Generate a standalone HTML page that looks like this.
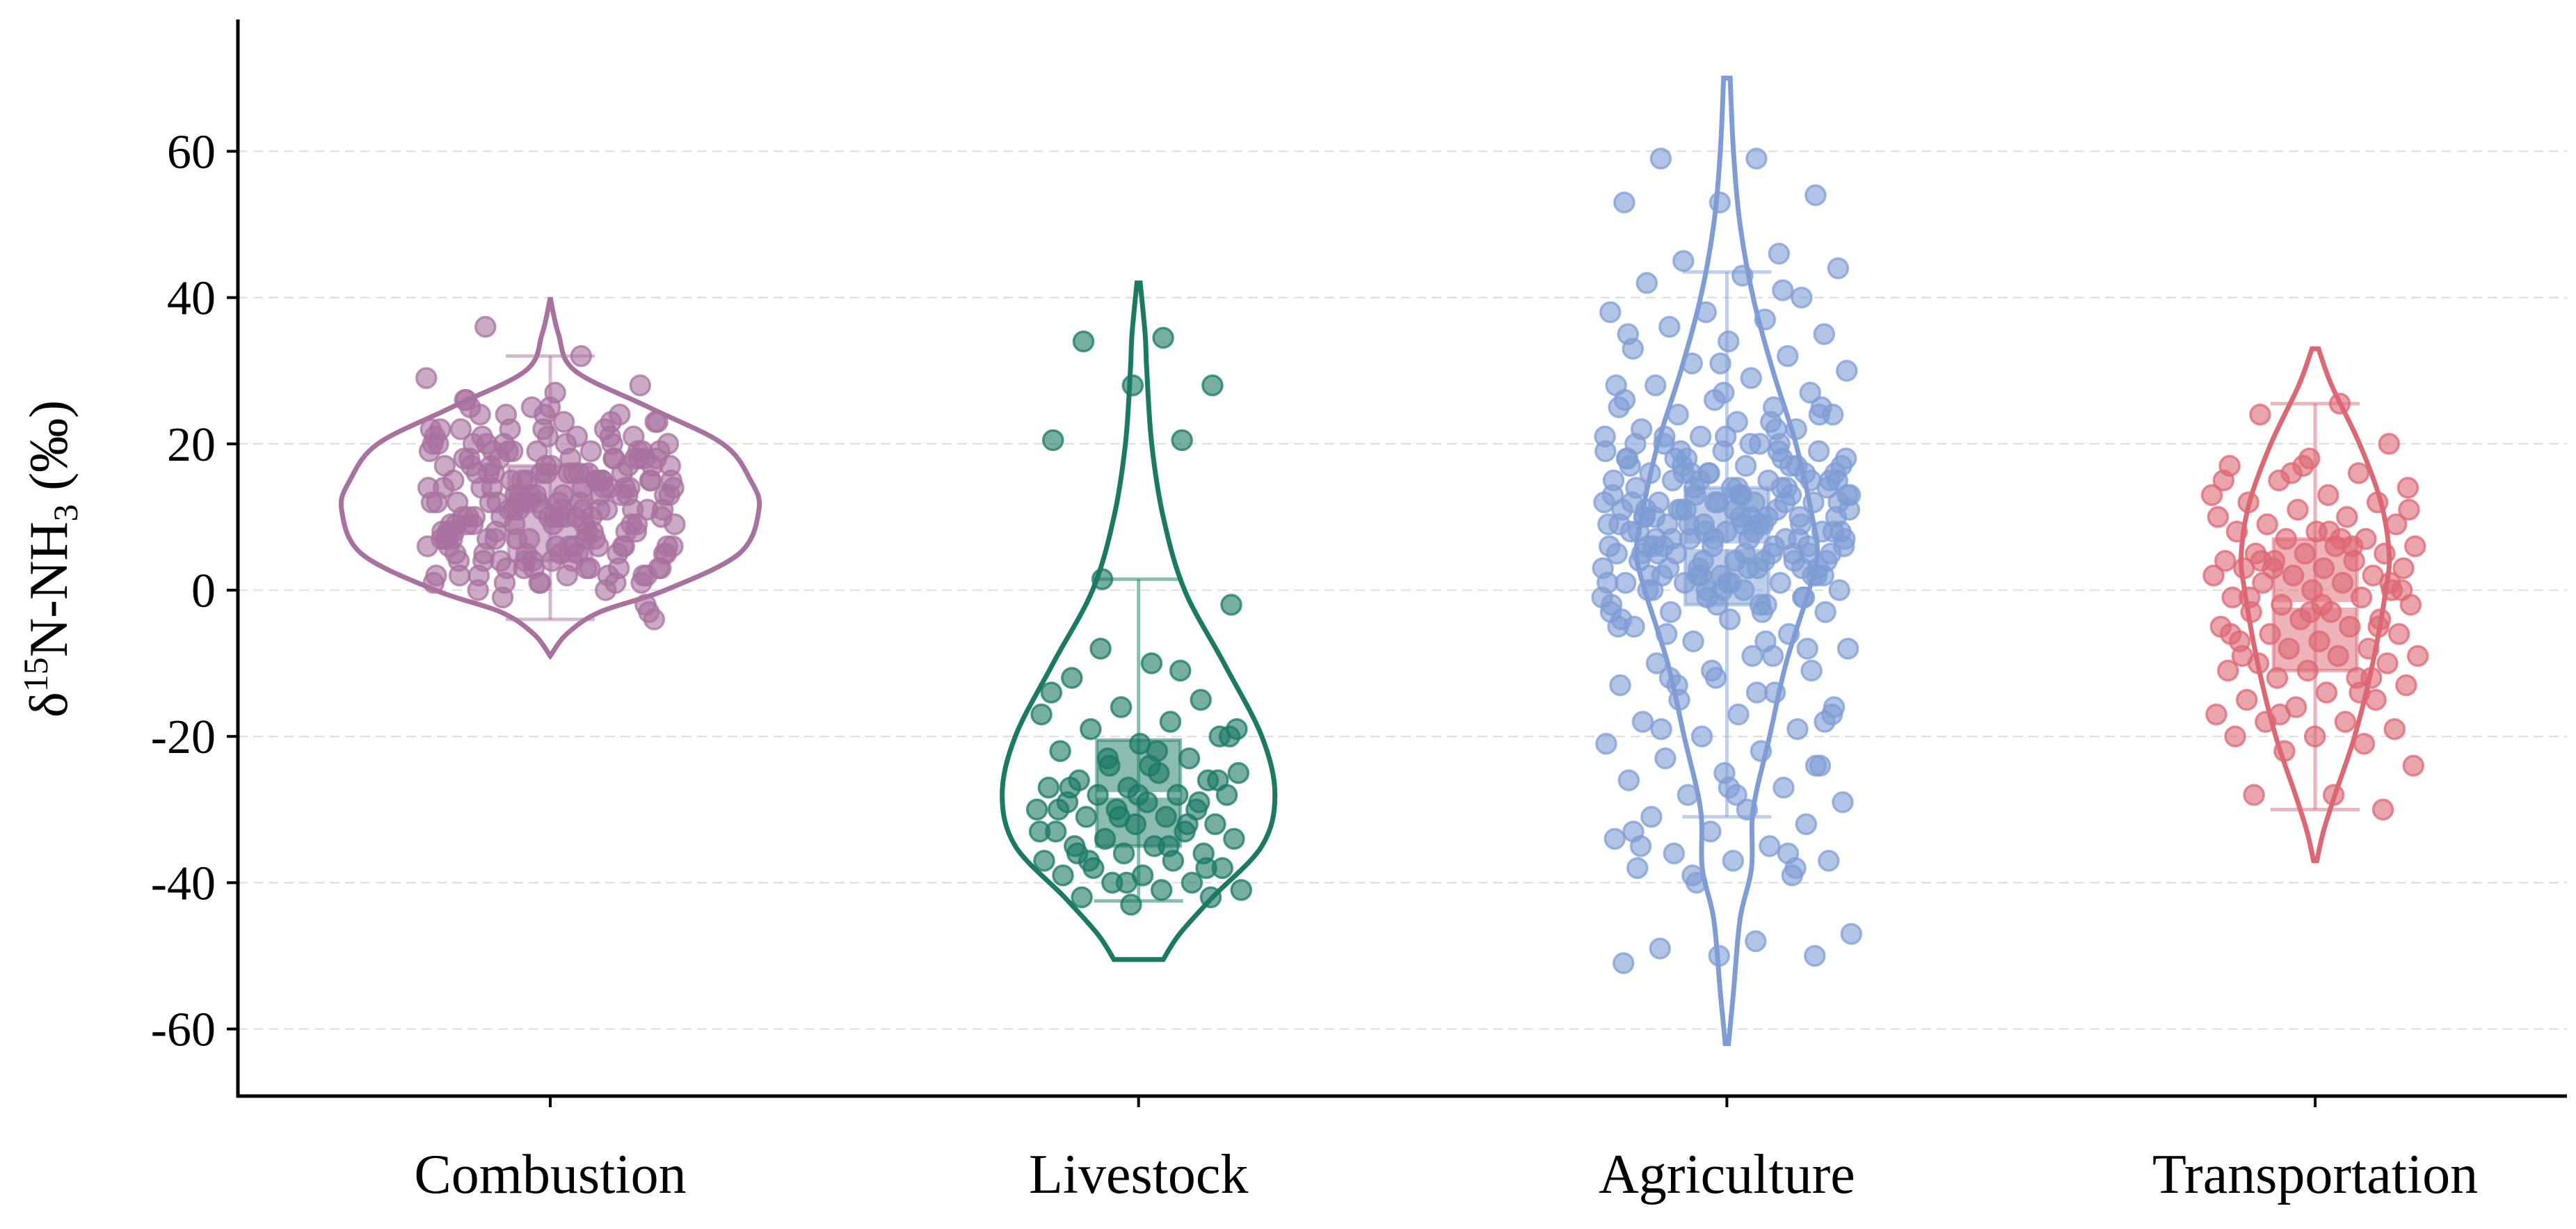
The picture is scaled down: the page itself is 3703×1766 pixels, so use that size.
<!DOCTYPE html>
<html><head><meta charset="utf-8"><style>html,body{margin:0;padding:0;background:#fff}svg{display:block}</style></head>
<body>
<svg id="chart" width="3703" height="1766" viewBox="0 0 3703 1766" xmlns="http://www.w3.org/2000/svg" font-family="'Liberation Serif', serif">
<g id="grid"></g><g id="marks"></g><g id="axes"></g>
</svg>
<script>
const categories = ["Combustion","Livestock","Agriculture","Transportation"];
const colors = ["#a8719f","#1a7a62","#7f9dd4","#dc6873"];
const yTicks = [60,40,20,0,-20,-40,-60];
const combustionVals = [12,5,18,22,8,15,3,10,20,25,14,7,1,16,19,11,4,9,23,13,17,6,2,21,12,8,15,10,18,5,26,24,3,14,11,7,19,16,9,0,22,13,6,20,17,4,12,10,8,15,27,2,18,11,14,5,21,9,16,7,13,1,19,23,10,6,15,12,3,17,-2,25,8,14,11,20,4,16,9,13,22,7,18,-4,12,10,5,15,29,32,36,28,24,6,14,19,11,2,17,8,13,21,3,16,-3,9,12,20,7,15,10,24,18,1,14,6,-1,23,11,26,
 13,4,19,9,16,2,21,7,11,15,5,18,10,14,3,20,8,12,17,6,22,1,13,9,16,4,19,11,7,15,24,3,10,18,6,12,20,8,14,2,17,5,21,9,13,16,0,11,19,7,15,4,23,10,18,3,12,6,14,20,1,17,8,22,11,5,16,9,13,25,2,19,7,15,10,4,18,12,6,21,14,8,1,17,11,20,3,13,9,16,5,22,7,12,18,10,15,2,19,6];
const livestockVals = [34.5,34,28,28,20.5,20.5,1.5,-2,-10,-12,-15,-16,-17,-18,-19,-20,-21,-22,-23,-24,-25,-25,-26,-26,-27,-27,-28,-28,-28,-29,-29,-30,-30,-30,-31,-31,-32,-32,-33,-33,-34,-34,-35,-35,-36,-36,-37,-37,-38,-38,-39,-39,-40,-40,-41,-41,-42,-42,-43,-14,-11,-8,-20,-24,-27,-29,-31,-33,-35,-37,-26,-28,-30,-32,-23,-19,-22,-36,-38,-40];
const agricultureVals = [59,59,54,53,53,46,45,44,43,42,40,38,38,37,36,35,34,33,32,31,30,29,28,27,26,25,25,24,24,23,22,22,21,21,20,20,19,19,18,18,18,17,17,16,16,16,15,15,15,14,14,14,13,13,13,12,12,12,12,11,11,11,10,10,10,10,9,9,9,9,8,8,8,7,7,7,7,6,6,6,5,5,5,5,4,4,4,3,3,3,2,2,2,1,1,1,0,0,0,-1,-1,-2,-2,-3,-3,-4,-5,-6,-7,-8,-9,-10,-11,-12,-13,-14,-15,-16,-17,-18,-19,-20,-21,-22,-23,-24,-25,-26,-27,-28,-29,-30,-31,-32,-33,-34,-35,-36,-37,-37,-38,-39,-40,-47,-48,-49,-50,-50,-51,19,17,15,13,11,9,8,6,4,3,2,1,12,14,16,18,20,10,5,7,-5,-9,-13,-17,-28,-35,-38,
 15,12,9,6,3,0,18,14,11,8,5,2,-1,16,13,10,7,4,1,20,17,14,11,8,5,2,-2,-4,22,19,16,13,10,7,4,1,-3,-6,25,21,17,12,9,6,3,0,-8,-11,28,23,18,15,11,8,5,2,-1,-14,-19,-24,31,26,20,16,12,9,6,3,0,-3,-7,-12,-18,-27,-33,-36,-39,13,10,7,15,12,9,6,11,8,14,5,17,2,19,-2,21,24,27,35,41];
const transportVals = [25.5,24,20,18,17,16,15,14,13,12,12,11,10,10,9,9,8,8,7,7,6,6,5,5,5,4,4,4,3,3,3,2,2,2,1,1,0,0,-1,-1,-2,-2,-3,-3,-4,-4,-5,-5,-6,-6,-7,-7,-8,-8,-9,-9,-10,-10,-11,-11,-12,-12,-13,-14,-15,-15,-16,-17,-18,-18,-19,-20,-20,-21,-22,-24,-28,-28,-30,17,15,6,3,0,-2,-9,-12,16,13,7,4,1,-3,-6,-14,-17,11,8,-1,-5];
const violinY0 = [40,35,30,25,20,15,11,5,0,-3,-6,-9];
const violinD0 = [0,5,15,60,105,122,127,115,70,30,10,0];
const violinY1 = [42,35,30,20,10,0,-10,-20,-28,-35,-42,-47,-50.5];
const violinD1 = [1,4,5,8,15,28,52,75,83,75,45,25,15];
const violinY2 = [70,60,50,40,30,20,10,5,0,-10,-20,-30,-38,-45,-55,-62];
const violinD2 = [2,4,8,16,28,42,52,55,50,36,26,16,15,8,4,1];
const violinY3 = [33,28,20,12,5,0,-10,-20,-28,-33,-37];
const violinD3 = [2,10,27,40,45,43,35,24,12,5,1];
const boxQ1 = [4,-35,-2,-11];
const boxMed = [11,-28,6,-2];
const boxQ3 = [17,-20.5,14,7];
const whiskLo = [-4,-42.5,-31,-30];
const whiskHi = [32,1.5,43.5,25.5];

const allVals=[combustionVals,livestockVals,agricultureVals,transportVals];
const vY=[violinY0,violinY1,violinY2,violinY3], vD=[violinD0,violinD1,violinD2,violinD3];
const X0=342,X1=3690,YT=28,YB=1575;
const yS=v=>848-v*10.51;
const xS=i=>791+i*845.7;
const NS="http://www.w3.org/2000/svg";
function mk(t,a,p){const e=document.createElementNS(NS,t);for(const k in a)e.setAttribute(k,a[k]);p.appendChild(e);return e;}
const grid=document.getElementById('grid'),marks=document.getElementById('marks'),axes=document.getElementById('axes');
yTicks.forEach(t=>{
  const l=mk('line',{x1:X0,x2:X1,y1:yS(t),y2:yS(t),stroke:'#e2e2e2','stroke-width':2.5,'stroke-dasharray':'14 8'},grid);
  
  
  const tk=mk('line',{x1:X0-16,x2:X0,y1:yS(t),y2:yS(t),stroke:'#000','stroke-width':4},axes);
  
  
  const tx=mk('text',{x:X0-32,y:yS(t)+24,'text-anchor':'end','font-size':70,fill:'#000'},axes);
  tx.textContent=t;
  
  
});
function smoothPath(pts){let d='M'+pts[0][0]+','+pts[0][1];
  for(let i=0;i<pts.length-1;i++){const p0=pts[Math.max(0,i-1)],p1=pts[i],p2=pts[i+1],p3=pts[Math.min(pts.length-1,i+2)];
    d+=' C'+(p1[0]+(p2[0]-p0[0])/6)+','+(p1[1]+(p2[1]-p0[1])/6)+' '+(p2[0]-(p3[0]-p1[0])/6)+','+(p2[1]-(p3[1]-p1[1])/6)+' '+p2[0]+','+p2[1];}
  return d;}
categories.forEach((c,i)=>{
  const cx=xS(i),col=colors[i],sc=2.362;
  const right=vY[i].map((y,k)=>[cx+vD[i][k]*sc,yS(y)]);
  const left=vY[i].map((y,k)=>[cx-vD[i][k]*sc,yS(y)]).reverse();
  const d=smoothPath(right)+' L'+left[0][0]+','+left[0][1]+smoothPath(left).replace(/^M[^C]*/,' ')+' Z';
  const v=mk('path',{d:d,fill:'none',stroke:col,'stroke-width':7},marks);
  
  
  const bw=64;
  const wl=mk('line',{x1:cx,x2:cx,y1:yS(whiskHi[i]),y2:yS(whiskLo[i]),stroke:col,'stroke-opacity':0.5,'stroke-width':5},marks);
  
  
  [whiskHi[i],whiskLo[i]].forEach(w=>{const cp=mk('line',{x1:cx-bw,x2:cx+bw,y1:yS(w),y2:yS(w),stroke:col,'stroke-opacity':0.5,'stroke-width':5},marks);
    
    });
  const b=mk('rect',{x:cx-bw+4,y:yS(boxQ3[i]),width:2*bw-8,height:yS(boxQ1[i])-yS(boxQ3[i]),fill:col,'fill-opacity':0.5,stroke:col,'stroke-opacity':0.5,'stroke-width':5},marks);
  
  
  const m=mk('line',{x1:cx-bw+4,x2:cx+bw-4,y1:yS(boxMed[i]),y2:yS(boxMed[i]),stroke:'#fff','stroke-width':8},marks);
  
  
  const spread=[180,150,180,150][i];
  allVals[i].forEach((val,k)=>{
    const off=(((k+1)*0.6180339887)%1*2-1)*spread;
    const p=mk('circle',{cx:cx+off,cy:yS(val),r:14,fill:col,'fill-opacity':0.6,stroke:col,'stroke-opacity':0.75,'stroke-width':3.5},marks);
    
    
  });
  const tk=mk('line',{x1:cx,x2:cx,y1:YB,y2:YB+16,stroke:'#000','stroke-width':4},axes);
  
  
  const tx=mk('text',{x:cx,y:1714,'text-anchor':'middle','font-size':80,fill:'#000'},axes);
  tx.textContent=c;
  
  
});
const ya=mk('line',{x1:X0,x2:X0,y1:YT,y2:YB+2,stroke:'#000','stroke-width':5},axes);


const xa=mk('line',{x1:X0-2,x2:X1,y1:YB,y2:YB,stroke:'#000','stroke-width':5},axes);


const yl=mk('text',{transform:'translate(96,803) rotate(-90)','text-anchor':'middle','font-size':78,fill:'#000'},axes);
yl.innerHTML='δ<tspan font-size="50" dy="-28">15</tspan><tspan dy="28">N-NH</tspan><tspan font-size="50" dy="15">3</tspan><tspan dy="-15"> (‰)</tspan>';


</script>
</body></html>
